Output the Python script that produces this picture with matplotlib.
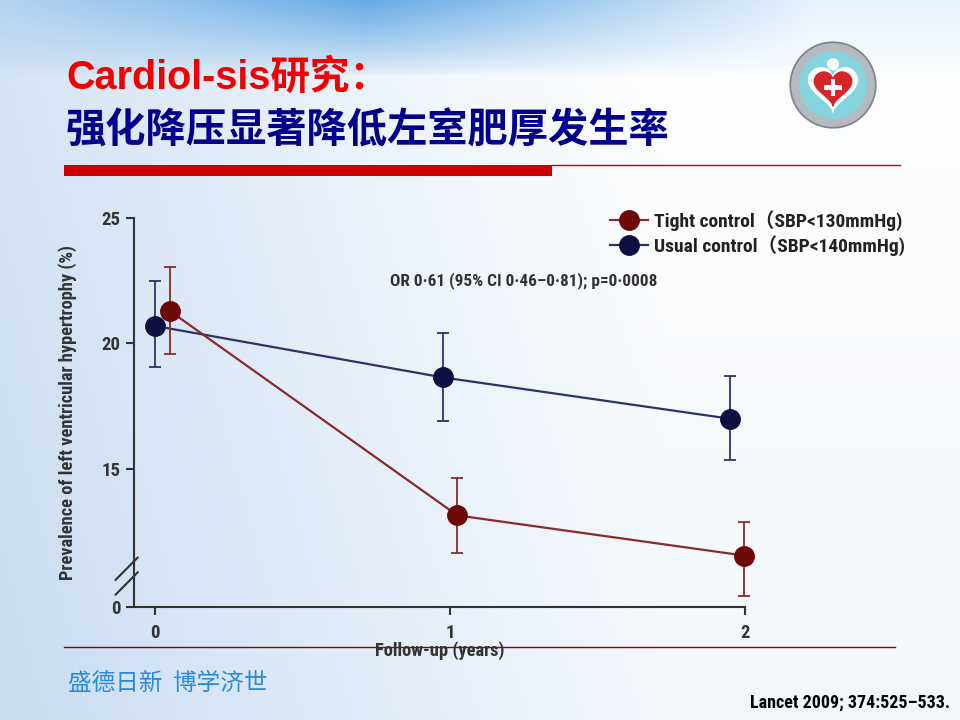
import matplotlib
matplotlib.use("Agg")
import matplotlib.pyplot as plt
import numpy as np
from matplotlib import font_manager as fm
from matplotlib.patches import Circle, Rectangle, Polygon

# data (years, prevalence %)
years_tight = [0.05, 1.025, 1.997]
tight = [21.3, 13.15, 11.55]
tight_lo = [19.6, 11.65, 9.95]
tight_hi = [23.05, 14.65, 12.9]

years_usual = [0.0, 0.975, 1.95]
usual = [20.7, 18.65, 17.0]
usual_lo = [19.05, 16.9, 15.35]
usual_hi = [22.5, 20.4, 18.7]

xticks = [0, 1, 2]
yticks = [9.5, 15, 20, 25]
ytick_labels = ["0", "15", "20", "25"]

labels = ["Tight control（SBP<130mmHg)", "Usual control（SBP<140mmHg)"]

red = "#6e0808"
red_line = "#8a2a2a"
navy = "#0b1040"
navy_line = "#2a3468"

# pick a narrow-ish font for the Lancet-style chart text
installed = {f.name for f in fm.fontManager.ttflist}
chart_font = next((n for n in ["Liberation Sans Narrow", "Roboto Condensed", "Lato"]
                   if n in installed), "DejaVu Sans")
narrow = [chart_font, "Noto Sans CJK SC", "DejaVu Sans"]
cjk = ["Noto Sans CJK SC", "DejaVu Sans"]

fig = plt.figure(figsize=(9.6, 7.2), dpi=100)

# slide background
bg = fig.add_axes([0, 0, 1, 1])
H, W = 720, 960
yy, xx = np.mgrid[0:H, 0:W] / np.array([H, W])[:, None, None]
base = np.array([1.0, 1.0, 1.0])
edge = np.array([0.80, 0.87, 0.95])
t = np.clip(0.9 - 1.3 * xx, 0, 1) ** 1.1 * 0.9 + 0.25 * yy
t = np.clip(t, 0, 1)
img = base[None, None, :] * (1 - t[..., None]) + edge[None, None, :] * t[..., None]
sky = np.array([0.40, 0.67, 0.90])
s = np.clip(1 - yy / 0.105, 0, 1) ** 0.8
s = s * np.clip(1 - np.abs(xx - 0.38) / 0.55, 0.15, 1)
img = img * (1 - s[..., None]) + sky[None, None, :] * s[..., None]
bg.imshow(img, aspect="auto", extent=[0, 1, 0, 1])
bg.set_xlim(0, 1)
bg.set_ylim(0, 1)
bg.axis("off")

# header rules
bg.add_patch(Rectangle((64 / 960, 1 - 176 / 720), (552 - 64) / 960, 11 / 720,
                       color="#cc0000", lw=0))
bg.plot([552 / 960, 900 / 960], [1 - 164.5 / 720] * 2, color="#cc0000", lw=1)
bg.plot([64 / 960, 895 / 960], [1 - 647 / 720] * 2, color="#8b0000", lw=1, zorder=1)

# logo
lg = fig.add_axes([(833 - 45) / 960, 1 - (85 + 45) / 720, 90 / 960, 90 / 720])
lg.set_xlim(-1, 1)
lg.set_ylim(-1, 1)
lg.set_aspect("equal")
lg.axis("off")
lg.add_patch(Circle((0, 0), 0.95, color="#b4babf", ec="#7c8288", lw=1.2))
lg.add_patch(Circle((0, 0), 0.74, color="#85d3dc"))
lg.add_patch(Circle((0, 0.46), 0.12, color="white"))
tt = np.linspace(0, 2 * np.pi, 80)
hx = 16 * np.sin(tt) ** 3
hy = 13 * np.cos(tt) - 5 * np.cos(2 * tt) - 2 * np.cos(3 * tt) - np.cos(4 * tt)
lg.add_patch(Polygon(np.c_[hx * 0.034, hy * 0.034 - 0.02], color="white"))
lg.add_patch(Polygon(np.c_[hx * 0.026, hy * 0.026 - 0.02], color="#d8252a"))
lg.add_patch(Rectangle((-0.05, -0.24), 0.10, 0.38, color="white", lw=0))
lg.add_patch(Rectangle((-0.19, -0.10), 0.38, 0.10, color="white", lw=0))

fig.text(66 / 960, 1 - 77 / 720, "Cardiol-sis研究：", color="#f00000", fontsize=28.5,
         fontweight="bold", family=["Liberation Sans", "Noto Sans CJK SC"], va="center")
fig.text(66 / 960, 1 - 131 / 720, "强化降压显著降低左室肥厚发生率", color="#00008c",
         fontsize=29, fontweight="bold", family=cjk, va="center")
fig.text(68 / 960, 1 - 684 / 720, "盛德日新  博学济世", color="#2a8ae0", fontsize=17,
         family=cjk, va="center")
fig.text(950 / 960, 1 - 703 / 720, "Lancet 2009; 374:525–533.", color="black", fontsize=13,
         fontweight="bold", family=narrow, ha="right", va="center")

# chart
ax = fig.add_axes([134 / 960, 1 - 607 / 720, (745 - 134) / 960, (607 - 218) / 720])
ax.set_facecolor("none")

eb_u = ax.errorbar(years_usual, usual,
                   yerr=[np.subtract(usual, usual_lo), np.subtract(usual_hi, usual)],
                   color=navy_line, ecolor=navy_line, elinewidth=1.3, capsize=4.5,
                   capthick=1.3, lw=1.6, marker="o", ms=14, mfc=navy, mec=navy,
                   clip_on=False, zorder=3)
eb_t = ax.errorbar(years_tight, tight,
                   yerr=[np.subtract(tight, tight_lo), np.subtract(tight_hi, tight)],
                   color=red_line, ecolor=red_line, elinewidth=1.3, capsize=4.5,
                   capthick=1.3, lw=1.6, marker="o", ms=14, mfc=red, mec=red,
                   clip_on=False, zorder=4)

ax.set_xlim(-0.071, 2.0)
ax.set_ylim(9.5, 25)
ax.set_xticks(xticks)
ax.set_yticks(yticks)
ax.set_yticklabels(ytick_labels)
for side in ["top", "right"]:
    ax.spines[side].set_visible(False)
for side in ["left", "bottom"]:
    ax.spines[side].set_linewidth(1.5)
    ax.spines[side].set_color("#333333")
ax.tick_params(length=6, width=1.5, color="#333333", labelsize=13.5, labelcolor="#333333")
ax.tick_params(axis="x", pad=6)
for lbl in ax.get_xticklabels() + ax.get_yticklabels():
    lbl.set_fontweight("bold")
    lbl.set_family(narrow)

ax.set_ylabel("Prevalence of left ventricular hypertrophy (%)", fontsize=13.2,
              fontweight="bold", family=narrow, color="#333333", labelpad=18)
ax.set_xlabel("Follow-up (years)", fontsize=13.3, fontweight="bold", family=narrow,
              color="#333333", labelpad=0)

# axis break marks
for dy in (0.0, 0.038):
    ax.plot([-0.03, 0.006], [0.07 - dy, 0.127 - dy], transform=ax.transAxes,
            color="#333333", lw=1.5, clip_on=False)

ax.text(390 / 960, 1 - 281 / 720, "OR 0·61 (95% CI 0·46–0·81); p=0·0008",
        transform=fig.transFigure, fontsize=12.4, fontweight="bold", family=narrow,
        color="#333333", va="center")

leg = ax.legend([eb_t.lines[0], eb_u.lines[0]], labels, loc="upper left",
                bbox_to_anchor=(592 / 960, 1 - 193 / 720), bbox_transform=fig.transFigure,
                frameon=False, handlelength=2.0, handletextpad=0.3, labelspacing=0.2,
                prop={"family": narrow, "size": 14, "weight": "bold"})
for txt in leg.get_texts():
    txt.set_color("#222222")

fig.savefig("out.png", dpi=100)
